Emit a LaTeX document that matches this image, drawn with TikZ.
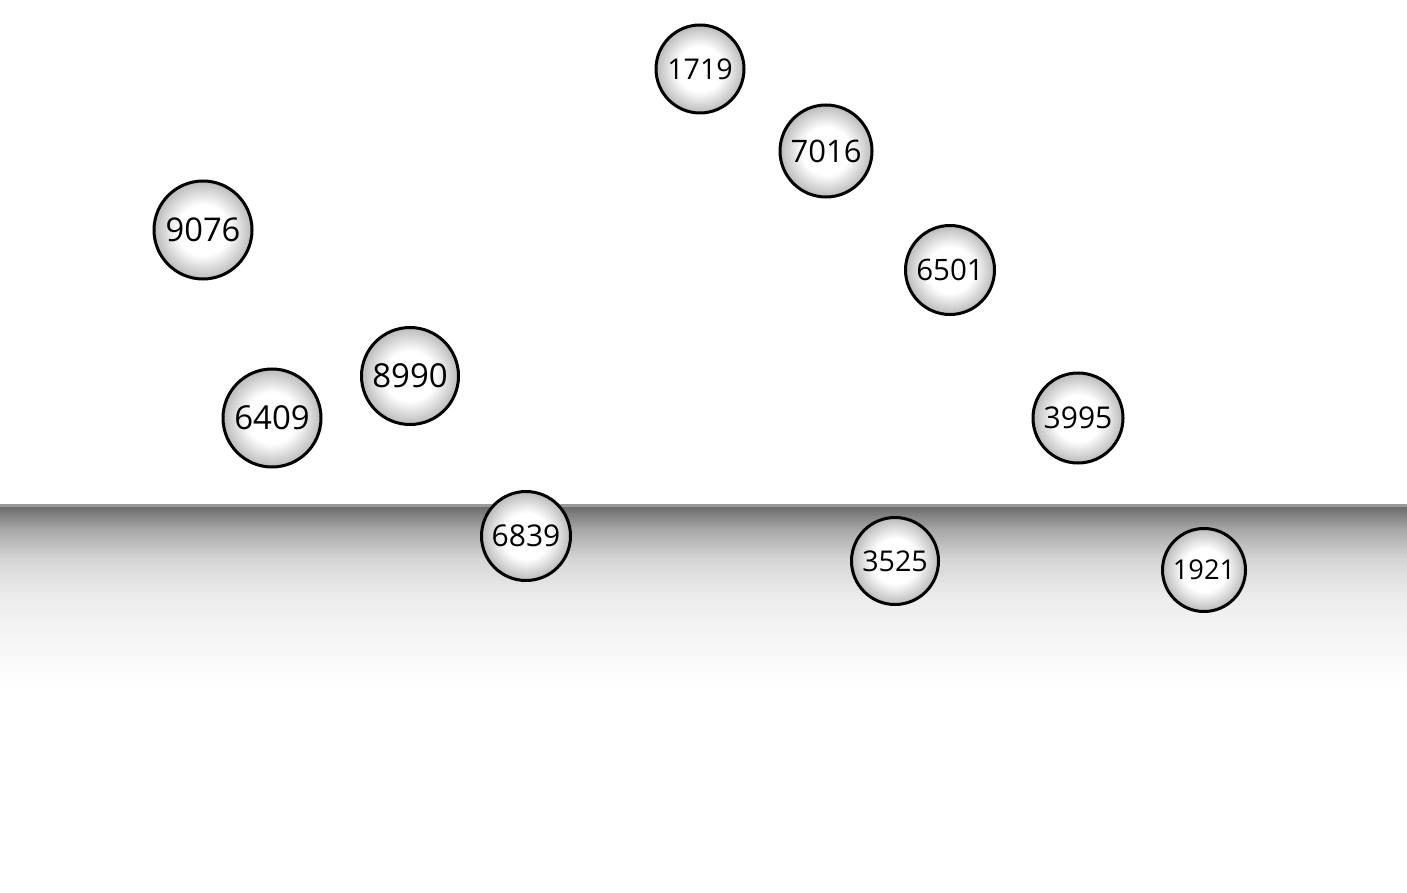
\documentclass[tikz,border=0pt]{standalone}
\usepackage{fontspec}
\setmainfont{Open Sans}
\pgfdeclareradialshading{ballshade}{\pgfpoint{0bp}{0bp}}{color(0bp)=(white); color(13bp)=(white); color(25bp)=(black!27); color(50bp)=(black!27)}
\tikzset{
  ball/.style={circle, draw=black, line width=3pt, shading=ballshade, minimum size=#1, inner sep=0pt, text=black},
}
\newcommand{\fsz}[1]{\fontsize{#1}{#1}\selectfont}
\begin{document}
\begin{tikzpicture}[x=1pt,y=-1pt]
\fill[white] (0,0) rectangle (1407,893);
\useasboundingbox (0,0) rectangle (1407,893);
% band
\fill[black!40] (0,504) rectangle (1407,507);
\shade[top color=black!57, bottom color=black!34] (0,507) rectangle (1407,530);
\shade[top color=black!34, bottom color=black!16] (0,529.8) rectangle (1407,560);
\shade[top color=black!16, bottom color=black!7] (0,559.8) rectangle (1407,600);
\shade[top color=black!7, bottom color=black!3] (0,599.8) rectangle (1407,650);
\shade[top color=black!3, bottom color=white] (0,649.8) rectangle (1407,690);
% balls
\node[ball=88pt] (n1719) at (700,69) {\fsz{28.6}1719};
\node[ball=92pt] (n7016) at (826,151) {\fsz{31}7016};
\node[ball=98pt] (n9076) at (203,230) {\fsz{32.7}9076};
\node[ball=89pt] (n6501) at (950,270) {\fsz{29.5}6501};
\node[ball=97pt] (n8990) at (410,376) {\fsz{33}8990};
\node[ball=98pt] (n6409) at (272,418) {\fsz{33}6409};
\node[ball=90pt] (n3995) at (1078,418) {\fsz{30}3995};
\node[ball=89pt] (n6839) at (526,536) {\fsz{30}6839};
\node[ball=87pt] (n3525) at (895,561) {\fsz{28.6}3525};
\node[ball=83pt] (n1921) at (1204,570) {\fsz{27.3}1921};
\end{tikzpicture}
\end{document}
